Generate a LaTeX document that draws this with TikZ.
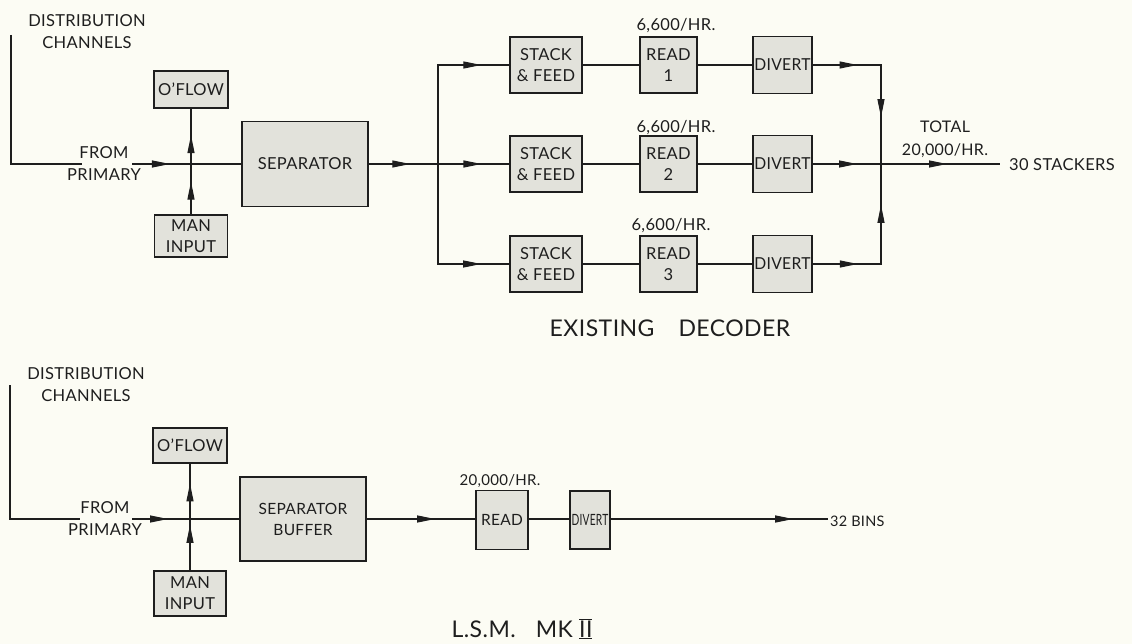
\documentclass[tikz,border=0pt]{standalone}
\usepackage{fontspec}
\setmainfont[LetterSpace=2]{Lato}
\usepackage{graphicx}
\usetikzlibrary{arrows.meta,decorations.markings}
\definecolor{bg}{RGB}{252,252,244}
\definecolor{boxfill}{RGB}{226,226,219}
\definecolor{ink}{RGB}{30,30,30}
\tikzset{
  conn/.style={draw=ink, line width=1.1pt},
  arrat/.style={postaction={decorate,decoration={markings,
      mark=at position #1 with {\arrow{Triangle[length=18pt,width=7pt]}}}}},
  blk/.style={draw=ink, line width=1.4pt, fill=boxfill, inner sep=0pt,
      align=center, font=\fontsize{16.5}{21}\selectfont, text=ink},
  lbl/.style={inner sep=0pt, align=center, font=\fontsize{16.5}{22}\selectfont, text=ink},
  ttl/.style={inner sep=0pt, font=\fontsize{23}{26}\selectfont, text=ink}
}
\begin{document}
\begin{tikzpicture}[x=1pt,y=-1pt]
\fill[bg] (0,0) rectangle (1132,644);
\useasboundingbox (0,0) rectangle (1132,644);

% ---------------- EXISTING DECODER ----------------
\node[blk, minimum width=74pt, minimum height=37pt] (of1) at (191,89.5) {O’FLOW};
\node[blk, minimum width=73pt, minimum height=42pt] (mi1) at (191,236) {MAN\\INPUT};
\node[blk, minimum width=126pt, minimum height=85pt] (sep1) at (305,164) {SEPARATOR};

\foreach \r/\y in {1/65,2/164,3/264}{
  \node[blk, minimum width=72pt, minimum height=56pt] (sf\r) at (546,\y) {STACK\\\& FEED};
  \node[blk, minimum width=57pt, minimum height=56pt] (rd\r) at (668.5,\y) {READ\\\r};
  \node[blk, minimum width=59pt, minimum height=57pt] (dv\r) at (782.5,\y) {\scalebox{0.95}[1]{DIVERT}};
}

\coordinate (dc1) at (11,35);
\coordinate (j1) at (191,164);
\coordinate (bj) at (438,164);
\coordinate (mj) at (881,164);
\coordinate (out1) at (1000,164);

\draw[conn, arrat=0.932] (dc1) |- (j1);
\draw[conn] (j1) -- (sep1.west);
\draw[conn, arrat=0.31, arrat=0.75] (mi1.north) -- (of1.south);
\draw[conn, arrat=0.6] (sep1.east) -- (bj);
\draw[conn, arrat=0.836] (bj) |- (sf1.west);
\draw[conn, arrat=0.61] (bj) -- (sf2.west);
\draw[conn, arrat=0.836] (bj) |- (sf3.west);
\foreach \r in {1,2,3}{
  \draw[conn] (sf\r) -- (rd\r);
  \draw[conn] (rd\r) -- (dv\r);
}
\draw[conn, arrat=0.268, arrat=0.72] (dv1.east) -| (mj);
\draw[conn, arrat=0.65] (dv2.east) -- (mj);
\draw[conn, arrat=0.268, arrat=0.757] (dv3.east) -| (mj);
\draw[conn, arrat=0.555] (mj) -- (out1);

\fill[bg] (82,160) rectangle (132,168);

\node[lbl] (dist1) at (87,32) {DISTRIBUTION\\CHANNELS};
\node[lbl] (from1) at (104,164) {FROM\\PRIMARY};
\node[lbl] (r1) at (676,26) {6,600/HR.};
\node[lbl] (r2) at (676,128) {6,600/HR.};
\node[lbl] (r3) at (671,226) {6,600/HR.};
\node[lbl, font=\fontsize{16}{23}\selectfont] (tot) at (945,139.5) {TOTAL\\20,000/HR.};
\node[lbl, anchor=west] (stk) at (1009,165) {30 STACKERS};
\node[ttl] (t1) at (670,328) {EXISTING\hspace{24pt}DECODER};

% ---------------- L.S.M. MK II ----------------
\node[blk, minimum width=74pt, minimum height=35pt] (of2) at (190,445.5) {O’FLOW};
\node[blk, minimum width=72pt, minimum height=45pt] (mi2) at (190,593.5) {MAN\\INPUT};
\node[blk, minimum width=126pt, minimum height=84pt, font=\fontsize{15.5}{21}\selectfont] (sep2) at (303,519) {SEPARATOR\\BUFFER};
\node[blk, minimum width=52pt, minimum height=59pt, font=\fontsize{15.5}{21}\selectfont] (rd) at (502,520) {READ};
\node[blk, minimum width=40pt, minimum height=58pt, font=\fontsize{15.5}{21}\selectfont] (dv) at (590,520) {\scalebox{0.66}[1]{DIVERT}};

\coordinate (dc2) at (10,385);
\coordinate (j2) at (190,519);
\coordinate (out2) at (828,519);

\draw[conn, arrat=0.93] (dc2) |- (j2);
\draw[conn] (j2) -- (sep2.west);
\draw[conn, arrat=0.426, arrat=0.815] (mi2.north) -- (of2.south);
\draw[conn, arrat=0.63] (sep2.east) -- (rd.west |- sep2.east);
\draw[conn] (rd.east |- sep2.east) -- (dv.west |- sep2.east);
\draw[conn, arrat=0.84] (dv.east |- sep2.east) -- (out2);

\fill[bg] (80,515) rectangle (132,523);

\node[lbl] (dist2) at (86,385) {DISTRIBUTION\\CHANNELS};
\node[lbl] (from2) at (105,519) {FROM\\PRIMARY};
\node[lbl, font=\fontsize{15}{20}\selectfont] (r4) at (500,481) {20,000/HR.};
\node[lbl, anchor=west, font=\fontsize{14.5}{20}\selectfont] (bins) at (830,521) {32 BINS};
\node[ttl] (t2) at (522,629) {L.S.M.\hspace{20pt}MK $\overline{\underline{\hbox{II}}}$};
\end{tikzpicture}
\end{document}
